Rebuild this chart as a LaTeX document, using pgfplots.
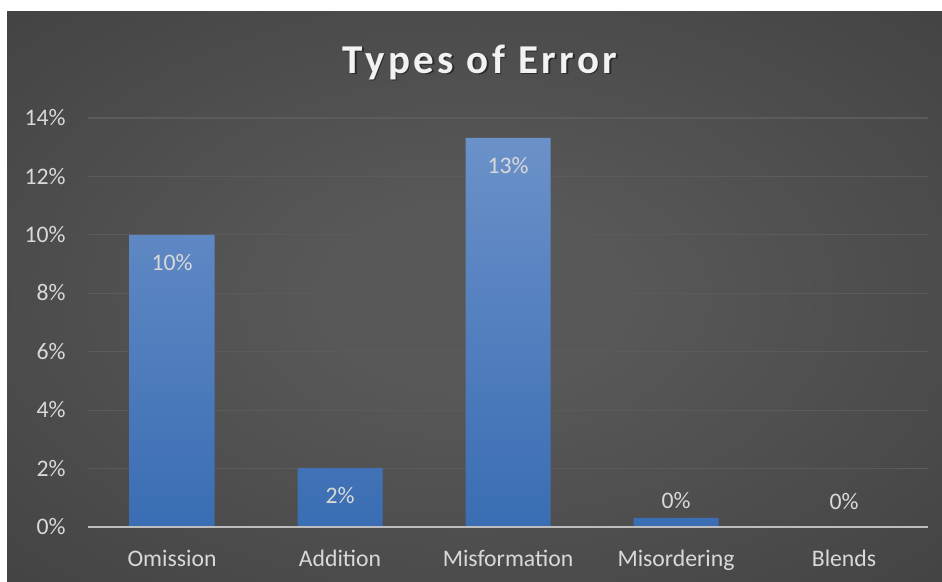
\documentclass[border=0pt]{standalone}
\usepackage{pgfplots}
\pgfplotsset{compat=1.18}
\usepackage{fontspec}
\setmainfont{Carlito}
\newfontfamily\titlefont[LetterSpace=8.5]{Carlito}
\definecolor{bgin}{HTML}{585858}
\definecolor{bgout}{HTML}{292929}
\definecolor{bartop}{HTML}{6B91C9}
\definecolor{barbot}{HTML}{3A6DB3}
\definecolor{txt}{HTML}{D9D9D9}
\definecolor{gridc}{HTML}{5B5B5B}
\definecolor{axisc}{HTML}{BDBDBD}
\pgfdeclareradialshading{bgshade}{\pgfpoint{0bp}{0bp}}{color(0bp)=(bgin); color(8bp)=(bgin); color(71bp)=(bgout); color(72bp)=(bgout)}
\begin{document}
\begin{tikzpicture}
\useasboundingbox (0bp,0bp) rectangle (942bp,582bp);
\fill[white] (0bp,0bp) rectangle (942bp,582bp);
\shade[shading=bgshade] (7bp,0bp) rectangle (942bp,570bp);
\node[anchor=base, inner sep=0pt, text=black, opacity=0.45, font=\titlefont\bfseries\fontsize{41bp}{48bp}\selectfont] at (481.5bp,507.2bp) {Types of Error};
\node[anchor=base, inner sep=0pt, text=white!95!black, font=\titlefont\bfseries\fontsize{41bp}{48bp}\selectfont] at (480bp,508.7bp) {Types of Error};
\begin{axis}[
  at={(88bp,55bp)}, anchor=south west,
  scale only axis, width=840bp, height=409bp,
  xmin=-0.5, xmax=4.5, ymin=0, ymax=14,
  ytick={0,2,...,14},
  yticklabel={\pgfmathparse{int(round(\tick))}\pgfmathresult\%},
  xtick={0,1,2,3,4},
  xticklabels={Omission,Addition,Misformation,Misordering,Blends},
  axis line style={draw=none},
  major tick length=0pt,
  ymajorgrids, grid style={gridc, line width=1.2bp},
  tick label style={text=txt, font=\fontsize{23.7bp}{28bp}\selectfont},
  yticklabel style={anchor=base east, inner sep=0pt, xshift=-22.3bp, yshift=-7.7bp},
  xticklabel style={anchor=base, inner sep=0pt, yshift=-39bp},
  clip=false,
]
\addplot[ybar, bar width=85bp, bar shift=0pt, draw=none, top color=bartop, bottom color=barbot]
  coordinates {(0,10) (1,2.02) (2,13.32) (3,0.31)};
\draw[axisc, line width=2bp] (axis cs:-0.5,0) -- (axis cs:4.5,0);
\addplot[draw=none, mark=none, nodes near coords, point meta=explicit symbolic,
  every node near coord/.style={anchor=base, inner sep=0pt, yshift=-35.5bp, text=txt, font=\fontsize{23.7bp}{28bp}\selectfont}]
  coordinates {(0,10)[10\%] (1,2.02)[2\%] (2,13.32)[13\%]};
\addplot[draw=none, mark=none, nodes near coords, point meta=explicit symbolic,
  every node near coord/.style={anchor=base, inner sep=0pt, yshift=9bp, text=txt, font=\fontsize{23.7bp}{28bp}\selectfont}]
  coordinates {(3,0.31)[0\%]};
\addplot[draw=none, mark=none, nodes near coords, point meta=explicit symbolic,
  every node near coord/.style={anchor=base, inner sep=0pt, yshift=17.7bp, text=txt, font=\fontsize{23.7bp}{28bp}\selectfont}]
  coordinates {(4,0)[0\%]};
\end{axis}
\end{tikzpicture}
\end{document}
